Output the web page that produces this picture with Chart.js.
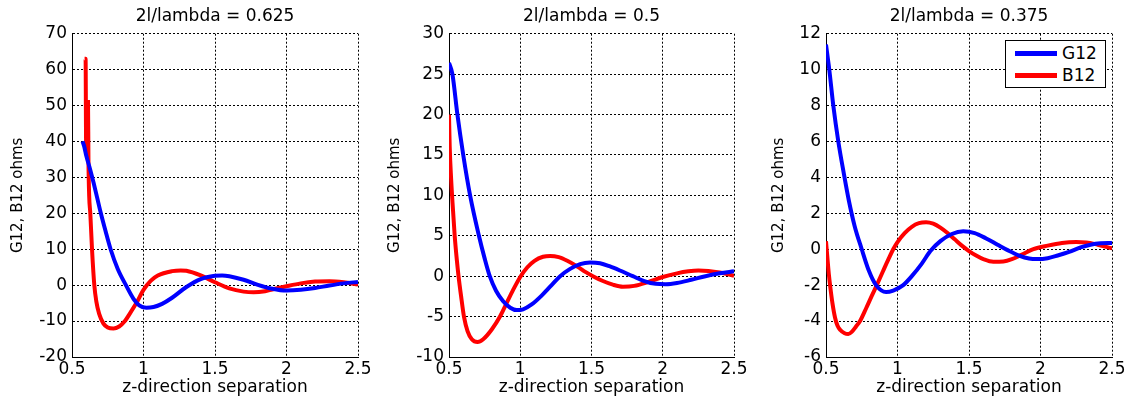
<!DOCTYPE html>
<html>
<head>
<meta charset="utf-8">
<script src="https://cdn.jsdelivr.net/npm/chart.js@4.4.1/dist/chart.umd.min.js"></script>
<style>
  html, body { margin:0; padding:0; background:#fff; }
  body { width:1141px; height:400px; position:relative; overflow:hidden; font-family:"DejaVu Sans", sans-serif; }
  .box { position:absolute; top:0; height:400px; }
  #legend { position:absolute; left:1005px; top:40px; width:99px; height:46px; border:1px solid #000; background:#fff; font-size:17px; }
  .row { position:absolute; left:0; height:20px; line-height:20px; }
  .sw { position:absolute; left:9px; top:8px; width:42px; height:5px; }
  .lt { position:absolute; left:56px; top:0; }
</style>
</head>
<body>
<div class="box" style="left:0;width:380px"><canvas id="c1"></canvas></div>
<div class="box" style="left:380px;width:380px"><canvas id="c2"></canvas></div>
<div class="box" style="left:760px;width:381px"><canvas id="c3"></canvas></div>
<div id="legend">
  <div class="row" style="top:2px"><div class="sw" style="background:#0000ff"></div><span class="lt">G12</span></div>
  <div class="row" style="top:24px"><div class="sw" style="background:#ff0000"></div><span class="lt">B12</span></div>
</div>
<script>
// ---- data ----
const titles = ["2l/lambda = 0.625", "2l/lambda = 0.5", "2l/lambda = 0.375"];
const xAxisTitle = "z-direction separation";
const yAxisTitle = "G12, B12 ohms";
const seriesNames = ["G12", "B12"];

// Chart 1 (2l/lambda = 0.625)
const x1G = [0.574,0.585,0.6,0.625,0.651,0.675,0.7,0.735,0.77,0.82,0.877,0.93,0.97,1.02,1.07,1.13,1.2,1.3,1.4,1.5,1.55,1.6,1.7,1.8,1.9,2.0,2.1,2.2,2.3,2.4,2.5];
const g1  = [40,38.7,36,32.5,28.5,24.5,20.3,15,10,4.5,0,-3.8,-5.6,-6.3,-6.1,-5.2,-3.5,-0.5,1.7,2.6,2.7,2.5,1.5,0.1,-1.0,-1.5,-1.3,-0.8,-0.1,0.5,0.9];
const x1B = [0.588,0.595,0.599,0.606,0.612,0.615,0.62,0.628,0.64,0.656,0.67,0.69,0.72,0.75,0.79,0.83,0.87,0.9,0.95,1.0,1.05,1.1,1.2,1.26,1.3,1.4,1.5,1.6,1.7,1.77,1.85,1.9,2.0,2.1,2.2,2.3,2.4,2.5];
const b1  = [63,63,38,51,51,35,25,20,10,0,-4.5,-8,-10.7,-11.8,-12.1,-11.5,-10,-8.2,-5,-1.3,1.2,2.7,3.9,4.1,4.0,2.7,0.8,-0.9,-1.8,-2.0,-1.7,-1.2,-0.3,0.5,1.0,1.1,0.8,0.2];

// Chart 2 (2l/lambda = 0.5)
const x2G = [0.5,0.524,0.559,0.6,0.648,0.71,0.75,0.786,0.83,0.88,0.93,0.975,1.02,1.08,1.15,1.22,1.28,1.35,1.42,1.49,1.56,1.63,1.7,1.79,1.87,1.95,2.02,2.1,2.2,2.3,2.4,2.5];
const g2  = [26.4,25,20,15,10,5,2.2,0,-1.8,-3.1,-3.9,-4.2,-4.1,-3.5,-2.4,-1.1,0,0.9,1.5,1.7,1.6,1.2,0.7,0,-0.6,-0.95,-1.0,-0.85,-0.45,0,0.35,0.6];
const x2B = [0.5,0.505,0.515,0.525,0.54,0.555,0.567,0.585,0.605,0.63,0.66,0.7,0.74,0.8,0.858,0.9,0.95,1.0,1.05,1.1,1.16,1.21,1.27,1.33,1.4,1.46,1.51,1.58,1.65,1.72,1.8,1.9,2.0,2.1,2.18,2.25,2.32,2.4,2.5];
const b2  = [20,16,12,9,5,2,0,-2.5,-5,-6.8,-7.8,-8.15,-7.8,-6.6,-5,-3.5,-1.7,-0.1,1.1,1.9,2.4,2.5,2.35,1.9,1.2,0.5,0,-0.6,-1.05,-1.3,-1.2,-0.7,-0.1,0.35,0.6,0.7,0.65,0.45,0.05];

// Chart 3 (2l/lambda = 0.375)
const x3G = [0.5,0.523,0.551,0.586,0.625,0.66,0.7,0.75,0.8,0.85,0.92,0.97,1.04,1.1,1.17,1.23,1.3,1.38,1.46,1.54,1.62,1.7,1.77,1.85,1.92,1.98,2.05,2.12,2.2,2.28,2.35,2.42,2.5];
const g3  = [11.4,10,8,6,4.2,2.7,1.3,0,-1.2,-2.0,-2.38,-2.3,-2.0,-1.5,-0.8,-0.1,0.45,0.85,1.0,0.9,0.6,0.25,-0.05,-0.35,-0.52,-0.55,-0.5,-0.35,-0.15,0.1,0.25,0.33,0.35];
const x3B = [0.5,0.51,0.52,0.53,0.545,0.563,0.58,0.6,0.63,0.656,0.68,0.71,0.738,0.78,0.82,0.855,0.9,0.94,0.97,1.0,1.05,1.1,1.15,1.2,1.25,1.3,1.35,1.4,1.45,1.5,1.55,1.6,1.67,1.74,1.8,1.87,1.95,2.05,2.15,2.25,2.32,2.4,2.5];
const b3  = [0.45,-0.5,-1.4,-2.1,-3,-3.8,-4.25,-4.5,-4.68,-4.72,-4.6,-4.3,-4.0,-3.3,-2.6,-2.0,-1.2,-0.5,0,0.4,0.9,1.25,1.45,1.5,1.42,1.2,0.9,0.55,0.2,-0.1,-0.35,-0.55,-0.7,-0.68,-0.55,-0.3,0,0.2,0.35,0.4,0.38,0.25,0.05];

const yRanges = [[-20,70,10],[-10,30,5],[-6,12,2]];
const xRange = [0.5, 2.5, 0.5];

// ---- build ----
function pts(xs, ys){ return xs.map((x,i)=>({x:x, y:ys[i]})); }
const fmt = v => String(Number(Number(v).toFixed(3)));

const FONT = "'DejaVu Sans', sans-serif";
function makeChart(id, title, gx, gy, bx, by, yr, yAxisW, padRight, yTitlePad){
  new Chart(document.getElementById(id), {
    type: 'line',
    data: {
      datasets: [
        { label: seriesNames[0], data: pts(gx, gy), borderColor:'#0000ff', backgroundColor:'#0000ff', borderWidth:4, pointRadius:0, cubicInterpolationMode:'monotone', fill:false },
        { label: seriesNames[1], data: pts(bx, by), borderColor:'#ff0000', backgroundColor:'#ff0000', borderWidth:4, pointRadius:0, cubicInterpolationMode:'monotone', fill:false }
      ]
    },
    options: {
      responsive: true, maintainAspectRatio: false, animation: false,
      layout: { padding: { left:0, right: padRight, top:0, bottom:0 } },
      plugins: {
        legend: { display:false },
        tooltip: { enabled:false },
        title: { display:true, fullSize:false, text:title, color:'#000', font:{ family:FONT, size:17, weight:'normal', lineHeight:1.1 }, padding:{ top:7, bottom:8 } }
      },
      scales: {
        x: {
          type:'linear', min:xRange[0], max:xRange[1],
          afterFit: s => { s.height = 43; },
          ticks: { stepSize:xRange[2], color:'#000', font:{ family:FONT, size:17 }, padding:2, maxRotation:0, autoSkip:false, callback: fmt },
          grid: { color:'#000', lineWidth:1, drawTicks:false },
          border: { display:true, color:'#000', width:1, dash:[2,2] },
          title: { display:true, text:xAxisTitle, color:'#000', font:{ family:FONT, size:17, lineHeight:1.1 }, padding:{ top:0, bottom:3 } }
        },
        y: {
          type:'linear', min:yr[0], max:yr[1],
          afterFit: s => { s.width = yAxisW; },
          ticks: { stepSize:yr[2], color:'#000', font:{ family:FONT, size:17 }, padding:5, autoSkip:false, callback: fmt },
          grid: { color:'#000', lineWidth:1, drawTicks:false },
          border: { display:true, color:'#000', width:1, dash:[2,2] },
          title: { display:true, text:yAxisTitle, color:'#000', font:{ family:FONT, size:15 }, padding:{ top:yTitlePad, bottom:0 } }
        }
      }
    }
  });
}

makeChart('c1', titles[0], x1G, g1, x1B, b1, yRanges[0], 72, 22, 9);
makeChart('c2', titles[1], x2G, g2, x2B, b2, yRanges[1], 69, 26, 6);
makeChart('c3', titles[2], x3G, g3, x3B, b3, yRanges[2], 66, 29, 10);
</script>
</body>
</html>
